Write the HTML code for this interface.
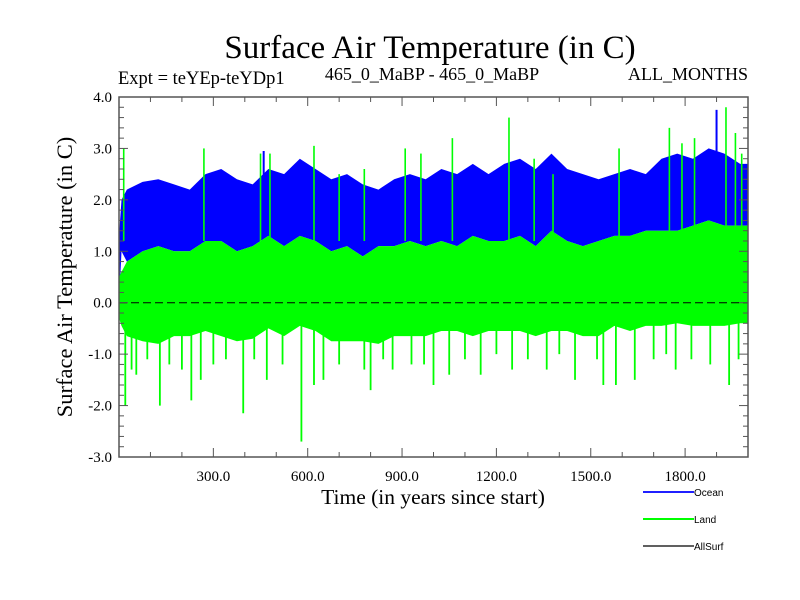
<!DOCTYPE html>
<html><head><meta charset="utf-8">
<style>
body{margin:0;background:#fff;}
svg{display:block;}
.serif{font-family:"Liberation Serif",serif;}
.sans{font-family:"Liberation Sans",sans-serif;}
</style></head>
<body>
<svg id="chart" width="800" height="600" viewBox="0 0 800 600">
<rect width="800" height="600" fill="#fff"/>
<text class="serif" x="430" y="58" font-size="33" text-anchor="middle">Surface Air Temperature (in C)</text>
<text class="serif" x="118" y="84" font-size="18.5">Expt = teYEp-teYDp1</text>
<text class="serif" x="432" y="80" font-size="18" text-anchor="middle">465_0_MaBP - 465_0_MaBP</text>
<text class="serif" x="748" y="80" font-size="18" text-anchor="end">ALL_MONTHS</text>
<text class="serif" x="0" y="0" font-size="22.5" text-anchor="middle" transform="translate(72,277) rotate(-90)">Surface Air Temperature (in C)</text>
<text class="serif" x="433" y="504" font-size="21.5" text-anchor="middle">Time (in years since start)</text>
<g id="plot"></g>
<g id="axes"></g>
<g>
<g><line x1="643" y1="492" x2="694" y2="492" stroke="#2020ff" stroke-width="2"/><text class="sans" x="694" y="496" font-size="10">Ocean</text></g>
<g><line x1="643" y1="519" x2="694" y2="519" stroke="#00ff00" stroke-width="2"/><text class="sans" x="694" y="523" font-size="10">Land</text></g>
<g><line x1="643" y1="546" x2="694" y2="546" stroke="#000" stroke-width="1.2"/><text class="sans" x="694" y="550" font-size="10">AllSurf</text></g>
</g>
</svg>
<script>
// bin centers (years), 50-year bins
const binYears = [25,75,125,175,225,275,325,375,425,475,525,575,625,675,725,775,825,875,925,975,1025,1075,1125,1175,1225,1275,1325,1375,1425,1475,1525,1575,1625,1675,1725,1775,1825,1875,1925,1975];
const oceanTop = [2.2,2.35,2.4,2.3,2.2,2.5,2.6,2.4,2.3,2.6,2.5,2.8,2.6,2.4,2.5,2.3,2.2,2.4,2.5,2.4,2.6,2.5,2.7,2.5,2.7,2.8,2.6,2.9,2.6,2.5,2.4,2.5,2.6,2.5,2.8,2.9,2.8,3.0,2.9,2.7];
const landTop = [0.8,1.0,1.1,1.0,1.0,1.2,1.2,1.0,1.1,1.3,1.1,1.3,1.2,1.0,1.1,0.9,1.1,1.1,1.2,1.1,1.2,1.1,1.3,1.2,1.2,1.3,1.1,1.4,1.2,1.1,1.2,1.3,1.3,1.4,1.4,1.4,1.5,1.6,1.5,1.5];
const landBot = [-0.65,-0.75,-0.8,-0.65,-0.65,-0.55,-0.65,-0.75,-0.7,-0.5,-0.65,-0.45,-0.55,-0.75,-0.75,-0.75,-0.8,-0.65,-0.65,-0.65,-0.55,-0.55,-0.65,-0.55,-0.55,-0.55,-0.65,-0.55,-0.55,-0.65,-0.65,-0.45,-0.55,-0.45,-0.45,-0.4,-0.45,-0.45,-0.45,-0.4];
const landDownYears = [20,40,55,90,130,160,200,230,260,300,340,395,430,470,520,580,620,650,700,780,800,840,870,930,970,1000,1050,1100,1150,1200,1250,1300,1360,1400,1450,1520,1540,1580,1640,1700,1740,1770,1820,1880,1940,1970];
const landDownVals = [-2.0,-1.3,-1.4,-1.1,-2.0,-1.2,-1.3,-1.9,-1.5,-1.2,-1.1,-2.15,-1.1,-1.5,-1.2,-2.7,-1.6,-1.5,-1.2,-1.3,-1.7,-1.1,-1.3,-1.2,-1.2,-1.6,-1.4,-1.1,-1.4,-1.0,-1.3,-1.1,-1.3,-1.0,-1.5,-1.1,-1.6,-1.6,-1.5,-1.1,-1.0,-1.3,-1.1,-1.2,-1.6,-1.1];
const landUpYears = [15,270,450,480,620,700,780,910,960,1060,1240,1320,1380,1590,1750,1790,1830,1930,1960,1980];
const landUpVals = [3.0,3.0,2.9,2.9,3.05,2.5,2.6,3.0,2.9,3.2,3.6,2.8,2.5,3.0,3.4,3.1,3.2,3.8,3.3,2.9];
const oceanUpYears = [460,1900];
const oceanUpVals = [2.95,3.75];
const xTickVals = [300,600,900,1200,1500,1800];
const xTickLabels = ["300.0","600.0","900.0","1200.0","1500.0","1800.0"];
const yTickVals = [-3,-2,-1,0,1,2,3,4];
const yTickLabels = ["-3.0","-2.0","-1.0","0.0","1.0","2.0","3.0","4.0"];

const X0=119,X1=748,Y0=97,Y1=457;
const xs=v=>X0+(v-0)/(2000-0)*(X1-X0);
const ys=v=>Y1-(v-(-3))/(7)*(Y1-Y0);
const NS='http://www.w3.org/2000/svg';
const plot=document.getElementById('plot'), axes=document.getElementById('axes');
function mk(tag,attrs,parent){const e=document.createElementNS(NS,tag);for(const k in attrs)e.setAttribute(k,attrs[k]);parent.appendChild(e);return e;}

function band(top,bot,color,name,startTop,startBot){
  let pts=[[xs(0),ys(startTop)],[xs(8),ys(top[0]-0.2)]];
  binYears.forEach((y,i)=>{pts.push([xs(y),ys(top[i])]);});
  pts.push([xs(2000),ys(top[top.length-1])]);
  pts.push([xs(2000),ys(bot[bot.length-1])]);
  for(let i=binYears.length-1;i>=0;i--){pts.push([xs(binYears[i]),ys(bot[i])]);}
  pts.push([xs(8),ys(bot[0]+0.2)]);
  pts.push([xs(0),ys(startBot)]);
  const p=mk('polygon',{points:pts.map(a=>a.join(',')).join(' '),fill:color},plot);
  
  
}
band(oceanTop,landTop,'#0000ff','ocean-series',1.3,0.0);
oceanUpYears.forEach((y,i)=>{
  const l=mk('line',{x1:xs(y),x2:xs(y),y1:ys(oceanTop[Math.min(39,Math.floor(y/50))]-0.2),y2:ys(oceanUpVals[i]),stroke:'#0000ff','stroke-width':2},plot);
  
  
});
band(landTop,landBot,'#00ff00','land-series',0.5,-0.3);
landUpYears.forEach((y,i)=>{
  const l=mk('line',{x1:xs(y),x2:xs(y),y1:ys(1.2),y2:ys(landUpVals[i]),stroke:'#00ff00','stroke-width':1.6},plot);
  
  
});
landDownYears.forEach((y,i)=>{
  const l=mk('line',{x1:xs(y),x2:xs(y),y1:ys(-0.3),y2:ys(landDownVals[i]),stroke:'#00ff00','stroke-width':1.8},plot);
  
  
});
const zl=mk('line',{x1:X0,x2:X1,y1:ys(0),y2:ys(0),stroke:'#000','stroke-width':1,'stroke-dasharray':'8,4'},plot);



const fr=mk('rect',{x:X0,y:Y0,width:X1-X0,height:Y1-Y0,fill:'none',stroke:'#555','stroke-width':1.5},axes);


for(let v=100;v<2000;v+=100){const L=(v%300===0)?9:5;
  mk('line',{x1:xs(v),x2:xs(v),y1:Y1,y2:Y1-L,stroke:'#555'},axes);
  mk('line',{x1:xs(v),x2:xs(v),y1:Y0,y2:Y0+L,stroke:'#555'},axes);}
for(let k=-15;k<=20;k++){const v=k*0.2;const major=(k%5===0);const L=major?9:5;
  mk('line',{x1:X0,x2:X0+L,y1:ys(v),y2:ys(v),stroke:'#555'},axes);
  mk('line',{x1:X1,x2:X1-L,y1:ys(v),y2:ys(v),stroke:'#555'},axes);}
xTickVals.forEach((v,i)=>{
  const t=mk('text',{x:xs(v),y:Y1+24,'font-size':15,'text-anchor':'middle','class':'serif'},axes);
  t.textContent=xTickLabels[i];
  
  
});
yTickVals.forEach((v,i)=>{
  const t=mk('text',{x:X0-7,y:ys(v)+5,'font-size':15,'text-anchor':'end','class':'serif'},axes);
  t.textContent=yTickLabels[i];
  
  
});
</script>
</body></html>
